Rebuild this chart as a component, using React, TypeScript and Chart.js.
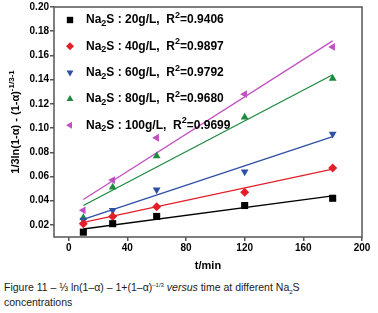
import React, { useEffect, useRef } from "react";
import { Chart, registerables } from "chart.js";

Chart.register(...registerables);

const times = [10, 30, 60, 120, 180];
const na20 = [0.014, 0.021, 0.027, 0.036, 0.042];
const na40 = [0.021, 0.027, 0.035, 0.047, 0.067];
const na60 = [0.024, 0.032, 0.049, 0.064, 0.095];
const na80 = [0.026, 0.051, 0.077, 0.109, 0.141];
const na100 = [0.032, 0.057, 0.092, 0.128, 0.167];

const fitTimes = [10, 180];
const fit20 = [0.0166, 0.044];
const fit40 = [0.022, 0.066];
const fit60 = [0.0246, 0.093];
const fit80 = [0.036, 0.144];
const fit100 = [0.041, 0.172];

const concentrations = ["20", "40", "60", "80", "100"];
const r2Values = ["0.9406", "0.9897", "0.9792", "0.9680", "0.9699"];
const seriesColors = ["#000000", "#e3202a", "#2e4fa6", "#1d8b3e", "#c24fc2"];
const seriesStyles = ["rect", "rectRot", "triangle", "triangle", "triangle"];
const seriesRotations = [0, 0, 180, 0, -90];
const seriesRadius = [5, 4.5, 4.5, 4.5, 4.5];

const xTickValues = [0, 40, 80, 120, 160, 200];
const yTickValues = [0.02, 0.04, 0.06, 0.08, 0.1, 0.12, 0.14, 0.16, 0.18, 0.2];

const FONT = "'Liberation Sans', Arial, sans-serif";

type Seg = { t: string; k?: "sub" | "sup" };

function drawSegs(ctx: CanvasRenderingContext2D, segs: Seg[], x: number, y: number, size: number, align: "left" | "center") {
  const big = `bold ${size}px ${FONT}`;
  const small = `bold ${Math.round(size * 0.72)}px ${FONT}`;
  let total = 0;
  for (const s of segs) {
    ctx.font = s.k ? small : big;
    total += ctx.measureText(s.t).width;
  }
  let cx = align === "center" ? x - total / 2 : x;
  ctx.textBaseline = "middle";
  ctx.textAlign = "left";
  for (const s of segs) {
    ctx.font = s.k ? small : big;
    const dy = s.k === "sub" ? size * 0.3 : s.k === "sup" ? -size * 0.38 : 0;
    ctx.fillText(s.t, cx, y + dy);
    cx += ctx.measureText(s.t).width;
  }
}

function drawMarker(ctx: CanvasRenderingContext2D, style: string, rot: number, x: number, y: number, r: number) {
  ctx.save();
  ctx.translate(x, y);
  ctx.rotate((rot * Math.PI) / 180);
  ctx.beginPath();
  if (style === "rect") {
    const s = r * Math.SQRT1_2;
    ctx.rect(-s, -s, 2 * s, 2 * s);
  } else if (style === "rectRot") {
    ctx.moveTo(0, -r);
    ctx.lineTo(r, 0);
    ctx.lineTo(0, r);
    ctx.lineTo(-r, 0);
    ctx.closePath();
  } else {
    const e = (3 * r) / Math.sqrt(3);
    const h = (e * Math.sqrt(3)) / 2;
    ctx.moveTo(0, -h * 2 / 3);
    ctx.lineTo(e / 2, h / 3);
    ctx.lineTo(-e / 2, h / 3);
    ctx.closePath();
  }
  ctx.fill();
  ctx.restore();
}

const decorPlugin = {
  id: "decor",
  afterDraw(chart: any) {
    const ctx: CanvasRenderingContext2D = chart.ctx;
    const a = chart.chartArea;
    ctx.save();
    ctx.strokeStyle = "#555555";
    ctx.lineWidth = 1.5;
    ctx.strokeRect(a.left, a.top, a.right - a.left, a.bottom - a.top);

    // legend
    ctx.fillStyle = "#000";
    for (let i = 0; i < concentrations.length; i++) {
      const y = 20 + i * 26.3;
      ctx.fillStyle = seriesColors[i];
      drawMarker(ctx, seriesStyles[i], seriesRotations[i], 70, y, seriesRadius[i] - 0.5);
      ctx.fillStyle = "#000";
      drawSegs(
        ctx,
        [
          { t: "Na" },
          { t: "2", k: "sub" },
          { t: `S : ${concentrations[i]}g/L,  R` },
          { t: "2", k: "sup" },
          { t: `=${r2Values[i]}` },
        ],
        86,
        y,
        12,
        "left"
      );
    }

    // x title
    ctx.fillStyle = "#000";
    drawSegs(ctx, [{ t: "t/min" }], (a.left + a.right) / 2, 266, 11, "center");

    // y title
    ctx.save();
    ctx.translate(16, (a.top + a.bottom) / 2);
    ctx.rotate(-Math.PI / 2);
    drawSegs(
      ctx,
      [{ t: "1/3ln(1-α) - (1-α)" }, { t: "-1/3", k: "sup" }, { t: "-1", k: "sup" }],
      0,
      0,
      11,
      "center"
    );
    ctx.restore();
    ctx.restore();
  },
};

export default function App() {
  const ref = useRef<HTMLCanvasElement>(null);
  useEffect(() => {
    if (!ref.current) return;
    const pts = [na20, na40, na60, na80, na100];
    const fits = [fit20, fit40, fit60, fit80, fit100];
    const datasets: any[] = [];
    pts.forEach((arr, i) => {
      datasets.push({
        type: "scatter",
        data: times.map((t, j) => ({ x: t, y: arr[j] })),
        backgroundColor: seriesColors[i],
        borderColor: seriesColors[i],
        borderWidth: 0,
        pointStyle: seriesStyles[i],
        rotation: seriesRotations[i],
        pointRadius: seriesRadius[i],
        showLine: false,
      });
    });
    fits.forEach((arr, i) => {
      datasets.push({
        type: "line",
        data: fitTimes.map((t, j) => ({ x: t, y: arr[j] })),
        borderColor: seriesColors[i],
        borderWidth: 1.3,
        pointRadius: 0,
        fill: false,
      });
    });
    const chart = new Chart(ref.current, {
      type: "scatter",
      data: { datasets },
      plugins: [decorPlugin],
      options: {
        animation: false,
        responsive: false,
        layout: { padding: { left: 0, top: 7, right: 16, bottom: 0 } },
        plugins: { legend: { display: false }, tooltip: { enabled: false } },
        scales: {
          x: {
            type: "linear",
            min: -10,
            max: 200,
            afterBuildTicks: (s: any) => {
              s.ticks = xTickValues.map((v) => ({ value: v }));
            },
            afterFit: (s: any) => {
              s.height = 38;
            },
            grid: { display: true, drawOnChartArea: false, drawTicks: true, tickLength: 4, color: "#555", lineWidth: 1.5 },
            border: { display: false },
            ticks: {
              padding: 1,
              color: "#000",
              font: { family: FONT, size: 10, weight: "bold" },
              callback: (v: any) => String(v),
            },
          },
          y: {
            type: "linear",
            min: 0.01,
            max: 0.2,
            afterBuildTicks: (s: any) => {
              s.ticks = yTickValues.map((v) => ({ value: v }));
            },
            afterFit: (s: any) => {
              s.width = 54;
            },
            grid: { display: true, drawOnChartArea: false, drawTicks: true, tickLength: 4, color: "#555", lineWidth: 1.5 },
            border: { display: false },
            ticks: {
              padding: 1,
              color: "#000",
              font: { family: FONT, size: 10, weight: "bold" },
              callback: (v: any) => Number(v).toFixed(2),
            },
          },
        },
      } as any,
    });
    return () => chart.destroy();
  }, []);

  return (
    <div style={{ position: "fixed", left: 0, top: 0, width: 378, height: 313, background: "#fff" }}>
      <canvas ref={ref} width={378} height={275} style={{ display: "block", width: 378, height: 275 }} />
      <div
        style={{
          position: "absolute",
          left: 4,
          top: 280,
          width: 330,
          fontFamily: FONT,
          fontSize: 10.5,
          lineHeight: "15px",
          color: "#1a1a1a",
        }}
      >
        Figure 11 – ⅓ ln(1–α) – 1+(1–α)
        <sup style={{ fontSize: 6, lineHeight: 0 }}>–1/3</sup> <i>versus</i> time at different Na
        <sub style={{ fontSize: 6, lineHeight: 0 }}>2</sub>S concentrations
      </div>
    </div>
  );
}
